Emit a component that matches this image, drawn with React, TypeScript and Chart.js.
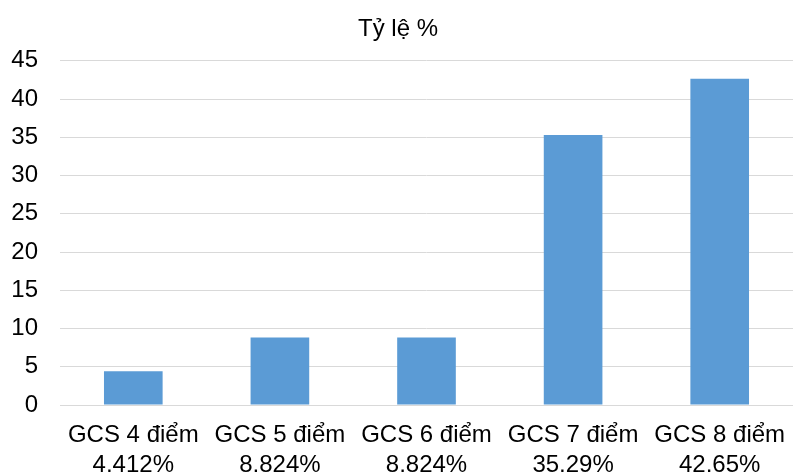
import React, { useEffect, useRef } from "react";
import { Chart, registerables } from "chart.js";

Chart.register(...registerables);

const categories: string[][] = [
  ["GCS 4 điểm", "4,412%"],
  ["GCS 5 điểm", "8,824%"],
  ["GCS 6 điểm", "8,824%"],
  ["GCS 7 điểm", "35,29%"],
  ["GCS 8 điểm", "42,65%"],
];
const values: number[] = [4.412, 8.824, 8.824, 35.29, 42.65];
const titleText = "Tỷ lệ %";
const yMin = 0;
const yMax = 45;
const yStep = 5;

const FONT = "'Liberation Sans', Arial, sans-serif";

export default function App() {
  const ref = useRef<HTMLCanvasElement | null>(null);
  useEffect(() => {
    if (!ref.current) return;
    const chart = new Chart(ref.current, {
      type: "bar",
      data: {
        labels: categories,
        datasets: [
          {
            data: values,
            backgroundColor: "#5B9BD5",
            borderWidth: 0,
            barPercentage: 0.4,
            categoryPercentage: 1,
          },
        ],
      },
      options: {
        animation: false,
        responsive: false,
        maintainAspectRatio: false,
        layout: { padding: { left: 0, right: -3, top: 0, bottom: 0 } },
        plugins: {
          legend: { display: false },
          tooltip: { enabled: false },
          title: {
            display: true,
            text: titleText,
            color: "#000",
            font: { family: FONT, size: 24, weight: "normal", lineHeight: 1.2 },
            padding: { top: 15, bottom: 17 },
          },
        },
        scales: {
          x: {
            grid: { display: false, drawTicks: false },
            border: { display: true, color: "#d9d9d9", width: 1 },
            ticks: {
              color: "#000",
              font: { family: FONT, size: 24, lineHeight: 1.23 },
              padding: 16,
              maxRotation: 0,
              autoSkip: false,
            },
            afterFit: (s: any) => {
              s.height = 67;
              s.paddingLeft = 0;
              s.paddingRight = 0;
            },
          },
          y: {
            min: yMin,
            max: yMax,
            grid: { color: "#d9d9d9", drawTicks: false, lineWidth: 1 },
            border: { display: false },
            ticks: {
              stepSize: yStep,
              color: "#000",
              font: { family: FONT, size: 24 },
              padding: 22,
            },
            afterFit: (s: any) => {
              s.width = 60;
              s.paddingTop = 0;
              s.paddingBottom = 0;
            },
          },
        },
      },
    });
    return () => chart.destroy();
  }, []);
  return (
    <div style={{ position: "absolute", left: 0, top: 0, width: 793, height: 472, background: "#fff" }}>
      <canvas ref={ref} width={793} height={472} style={{ display: "block" }} />
    </div>
  );
}
